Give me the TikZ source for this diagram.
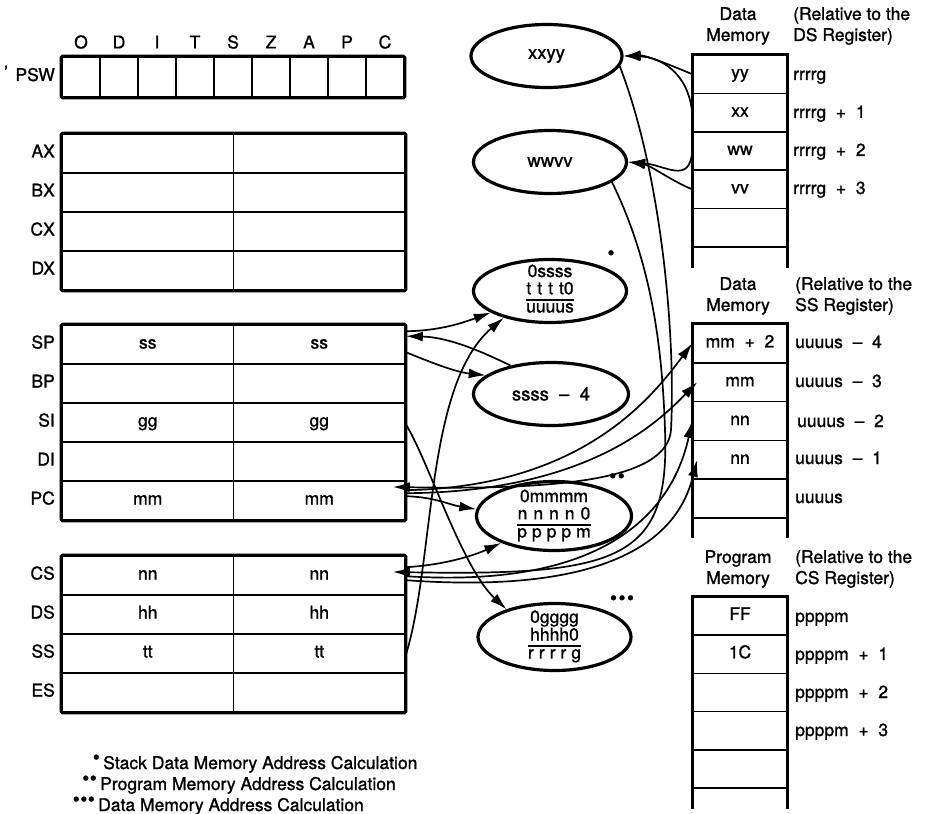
\documentclass[tikz,border=0pt]{standalone}
\usepackage{fontspec}
\setmainfont{TeX Gyre Heros}[FakeBold=1.2]
\usetikzlibrary{arrows.meta,shapes.geometric}
\setlength\arrayrulewidth{1.6pt}
\begin{document}
\begin{tikzpicture}[x=1pt,y=-1pt,
  txt/.style={font=\fontsize{17.5}{21}\selectfont, inner sep=0pt},
  cell/.style={draw, line width=1.6pt, inner sep=0pt, font=\fontsize{17.5}{21}\selectfont, text height=11pt, text depth=3pt},
  reg/.style={cell, minimum width=171.5pt, minimum height=39pt},
  flag/.style={cell, minimum width=38pt, minimum height=40pt},
  mem/.style={cell, minimum width=94pt},
  lab/.style={txt, anchor=east, text height=11pt, text depth=3pt},
  side/.style={txt, anchor=base west},
  frame/.style={line width=3.2pt, rounded corners=1.5pt},
  memside/.style={line width=3.2pt},
  ell/.style={ellipse, draw, line width=3.2pt, inner sep=0pt},
  elltxt/.style={font=\fontsize{18.5}{21}\selectfont, inner sep=0pt},
  calcthree/.style={font=\fontsize{17.5}{16.5}\selectfont, inner sep=0pt},
  arr/.style={line width=1.7pt, -{Latex[length=17pt,width=10pt]}},
  dotm/.style={inner sep=0pt, font=\fontsize{20}{20}\selectfont},
]
\useasboundingbox (0,0) rectangle (936,813);

% ---------- PSW ----------
\foreach \i/\f in {0/O,1/D,2/I,3/T,4/S,5/Z,6/A,7/P,8/C} {
  \node[flag] (psw\i) at ({81+38*\i},77) {};
  \node[txt] (fl\i) at ({81+38*\i},42) {\f};
}
\draw[frame] (psw0.north west) rectangle (psw8.south east);
\node[lab] (pswlab) at (55,77) {PSW};
\node[txt] (tick) at (6,72) {'};

% ---------- general registers ----------
\foreach \n/\y/\v in {AX/153.5/{},BX/192.5/{},CX/231.5/{},DX/270.5/{}} {
  \node[reg] (\n-l) at (147.75,\y) {\v};
  \node[reg] (\n-r) at (319.25,\y) {\v};
  \node[lab] (\n-lab) at (55,\y) {\n};
}
\draw[frame] (AX-l.north west) rectangle (DX-r.south east);

\foreach \n/\y/\v in {SP/344.5/ss,BP/383.5/{},SI/422.5/gg,DI/461.5/{},PC/500.5/mm} {
  \node[reg] (\n-l) at (147.75,\y) {\v};
  \node[reg] (\n-r) at (319.25,\y) {\v};
  \node[lab] (\n-lab) at (55,\y) {\n};
}
\draw[frame] (SP-l.north west) rectangle (PC-r.south east);

\foreach \n/\y/\v in {CS/575.5/nn,DS/614.5/hh,SS/653.5/tt,ES/692.5/{}} {
  \node[reg] (\n-l) at (147.75,\y) {\v};
  \node[reg] (\n-r) at (319.25,\y) {\v};
  \node[lab] (\n-lab) at (55,\y) {\n};
}
\draw[frame] (CS-l.north west) rectangle (ES-r.south east);

% ---------- data memory (DS) ----------
\foreach \i/\v in {0/yy,1/xx,2/ww,3/vv,4/{}}
  \node[mem, minimum height=38.4pt] (dm\i) at (740,{74.2+38.4*\i}) {\v};
\draw[memside] ([yshift=-20pt]dm4.south west) -- (dm0.north west) -- (dm0.north east) -- ([yshift=-20pt]dm4.south east);
\node[txt, align=center] (dmt) at (738,26) {Data\\Memory};
\node[txt, align=left, anchor=west] (dmr) at (793,26) {(Relative to the\\DS Register)};
\node[side] (dl0) at (793,80) {rrrrg};
\node[side] (dl1) at (793,118) {rrrrg\ \ +\ \ 1};
\node[side] (dl2) at (793,156) {rrrrg\ \ +\ \ 2};
\node[side] (dl3) at (793,194) {rrrrg\ \ +\ \ 3};

% ---------- data memory (SS) ----------
\foreach \i/\v in {0/{mm\ \ +\ \ 2},1/mm,2/nn,3/nn,4/{}}
  \node[mem, minimum height=38.8pt] (sm\i) at (740,{343.4+38.8*\i}) {\v};
\draw[memside] ([yshift=-19pt]sm4.south west) -- (sm0.north west) -- (sm0.north east) -- ([yshift=-19pt]sm4.south east);
\node[txt, align=center] (smt) at (738,296) {Data\\Memory};
\node[txt, align=left, anchor=west] (smr) at (795,296) {(Relative to the\\SS Register)};
\node[side] (sl0) at (795,348) {uuuus\ \ –\ \ 4};
\node[side] (sl1) at (795,387) {uuuus\ \ –\ \ 3};
\node[side] (sl2) at (797,427) {uuuus\ \ –\ \ 2};
\node[side] (sl3) at (795,464) {uuuus\ \ –\ \ 1};
\node[side] (sl4) at (795,503) {uuuus};

% ---------- program memory ----------
\foreach \i/\v in {0/FF,1/1C,2/{},3/{},4/{}}
  \node[mem, minimum height=38.2pt] (pm\i) at (740,{616.1+38.2*\i}) {\v};
\draw[memside] ([yshift=-20pt]pm4.south west) -- (pm0.north west) -- (pm0.north east) -- ([yshift=-20pt]pm4.south east);
\node[txt, align=center] (pmt) at (738,569) {Program\\Memory};
\node[txt, align=left, anchor=west] (pmr) at (795,569) {(Relative to the\\CS Register)};
\node[side] (pl0) at (795,622) {ppppm};
\node[side] (pl1) at (795,660) {ppppm\ \ +\ \ 1};
\node[side] (pl2) at (795,698) {ppppm\ \ +\ \ 2};
\node[side] (pl3) at (795,736) {ppppm\ \ +\ \ 3};

% ---------- ellipses ----------
\node[ell, minimum width=151pt, minimum height=63pt] (e1) at (546.5,56) {};
\node[elltxt] (e1t) at (e1) {xxyy};
\node[ell, minimum width=153pt, minimum height=63pt] (e2) at (550,162) {};
\node[elltxt] (e2t) at (e2) {wwvv};
\node[ell, minimum width=153pt, minimum height=63pt] (e3) at (550,291) {};
\node[calcthree] (e3t) at (e3) {\begin{tabular}{@{}c@{}}0ssss\\t\kern6pt t\kern6pt t\kern6pt t0\\\hline uuuus\end{tabular}};
\node[ell, minimum width=155pt, minimum height=63pt] (e4) at (551,394) {};
\node[elltxt] (e4t) at (e4) {ssss\ \ –\ \ 4};
\node[ell, minimum width=155pt, minimum height=69pt] (e5) at (554,516) {};
\node[calcthree] (e5t) at (e5) {\begin{tabular}{@{}c@{}}0mmmm\\n\kern6pt n\kern6pt n\kern6pt n\kern6pt 0\\\hline p\kern5pt p\kern5pt p\kern5pt p\kern5pt m\end{tabular}};
\node[ell, minimum width=153pt, minimum height=67pt] (e6) at (554.5,637) {};
\node[calcthree] (e6t) at (e6) {\begin{tabular}{@{}c@{}}0gggg\\hhhh0\\\hline r\kern5pt r\kern5pt r\kern5pt r\kern5pt g\end{tabular}};

\node[dotm] (m1) at (611,255) {•};
\node[dotm] (m2) at (617,478) {•\kern1.5pt•};
\node[dotm] (m3) at (622,600) {•\kern1.5pt•\kern1.5pt•};

% ---------- footnotes ----------
\node[dotm, anchor=base east] (f1m) at (100,764) {•};
\node[txt, anchor=base west] (f1) at (103,769) {Stack Data Memory Address Calculation};
\node[dotm, anchor=base east] (f2m) at (97,785) {•\kern0.5pt•};
\node[txt, anchor=base west] (f2) at (100,790) {Program Memory Address Calculation};
\node[dotm, anchor=base east] (f3m) at (95,806) {•\kern0.5pt•\kern0.5pt•};
\node[txt, anchor=base west] (f3) at (98,811) {Data Memory Address Calculation};

% ---------- connector end points ----------
\coordinate (SPo1) at ([yshift=-7pt]SP-r.north east);
\coordinate (SPi)  at ([yshift=-12pt]SP-r.north east);
\coordinate (SPo2) at ([yshift=-28pt]SP-r.north east);
\coordinate (SIo)  at ([yshift=-22pt]SI-r.north east);
\coordinate (PCi)  at ([yshift=-7pt]PC-r.north east);
\coordinate (PCo1) at ([yshift=-10pt]PC-r.north east);
\coordinate (PCo2) at ([yshift=-13pt]PC-r.north east);
\coordinate (PCo3) at ([yshift=-16pt]PC-r.north east);
\coordinate (CSo1) at ([yshift=-12pt]CS-r.north east);
\coordinate (CSi)  at ([yshift=-17pt]CS-r.north east);
\coordinate (CSo2) at ([yshift=-21pt]CS-r.north east);
\coordinate (CSo3) at ([yshift=-25pt]CS-r.north east);
\coordinate (SSo)  at ([yshift=-22pt]SS-r.north east);

% ---------- connectors ----------
\draw[arr] (SPo1) .. controls (440,331) and (465,322) .. (e3.200);
\draw[arr] (e4.145) .. controls (475,348) and (445,337) .. (SPi);
\draw[arr] (SPo2) .. controls (430,362) and (455,372) .. (e4.164);
\draw[arr] (SSo) .. controls (435,560) and (425,385) .. (e3.210);
\draw[arr] (SIo) .. controls (428,460) and (462,568) .. (e6.150);
\draw[arr] (PCo3) .. controls (435,497) and (450,505) .. (e5.175);
\draw[arr] (CSo1) .. controls (445,565) and (475,555) .. (e5.207);
\draw[arr] (PCo1) .. controls (580,487) and (650,400) .. (sm0.west);
\draw[arr] (PCo2) .. controls (590,492) and (660,420) .. ([xshift=5pt]sm1.west);
\draw[arr] (CSo2) .. controls (620,590) and (675,500) .. (sm2.west);
\draw[arr] (CSo3) .. controls (640,597) and (682,520) .. ([xshift=5pt]sm3.west);
\draw[arr, shorten >=-13pt] (e1.-8) .. controls (660,170) and (676,330) .. (671,430) .. controls (667,480) and (560,490) .. (PCi);
\draw[arr, shorten >=-13pt] (e2.-18) .. controls (650,260) and (662,340) .. (665,430) .. controls (670,560) and (620,576) .. (CSi);
\draw[arr] (dm0.west) .. controls (668,64) and (645,55) .. (e1.east);
\draw[arr] (dm1.west) .. controls (688,72) and (660,57) .. (e1.east);
\draw[arr] (dm2.west) .. controls (690,185) and (665,165) .. (e2.east);
\draw[arr] (dm3.west) .. controls (670,180) and (650,165) .. (e2.east);
\end{tikzpicture}
\end{document}
